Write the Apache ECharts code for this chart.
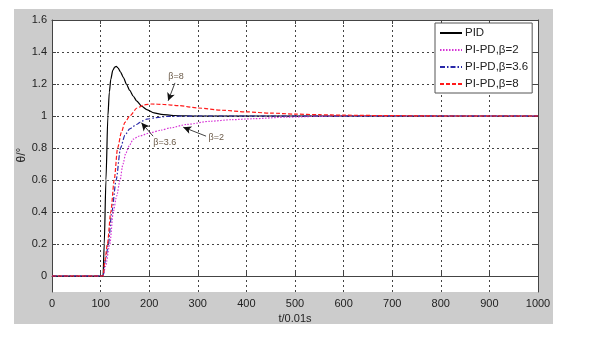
<!DOCTYPE html>
<html><head><meta charset="utf-8">
<script src="https://cdn.jsdelivr.net/npm/echarts@6/dist/echarts.min.js"></script>
<style>html,body{margin:0;padding:0;background:#fff}#c{width:589px;height:337px}</style>
</head><body><div id="c"></div>
<script>
const xTicks = [0,100,200,300,400,500,600,700,800,900,1000];
const yTicks = [0,0.2,0.4,0.6,0.8,1,1.2,1.4,1.6];
const seriesNames = ['PID','PI-PD,β=2','PI-PD,β=3.6','PI-PD,β=8'];

const tPID = [0,105,107.5,111,115,118,121,125,129,132,136,141,147,153,160,167,174,185,195,210,225,250,300,1000];
const vPID = [0,0,0.2,0.6,1.0,1.15,1.23,1.285,1.305,1.31,1.3,1.275,1.24,1.2,1.16,1.125,1.095,1.06,1.04,1.02,1.01,1.003,1.0,1.0];

const tB2 = [0,105,110,119,126,133,140,146,152,160,167,180,202,225,243,277,325,370,414,483,550,600,1000];
const vB2 = [0,0,0.06,0.2,0.4,0.5,0.6,0.7,0.77,0.82,0.855,0.875,0.895,0.912,0.926,0.947,0.967,0.977,0.983,0.993,0.998,1.0,1.0];

const tB36 = [0,105,110,116,123,132,141,150,160,174,185,195,215,240,300,1000];
const vB36 = [0,0,0.1,0.2,0.4,0.6,0.8,0.88,0.92,0.947,0.968,0.98,0.99,0.998,1.0,1.0];

const tB8 = [0,105,109,114,121,128,135,143,150,160,175,190,205,230,260,300,350,400,450,500,550,600,700,800,1000];
const vB8 = [0,0,0.1,0.2,0.4,0.6,0.8,0.9,0.96,1.0,1.05,1.07,1.075,1.072,1.065,1.05,1.036,1.026,1.018,1.012,1.008,1.005,1.002,1.0,1.0];

const annoText = [['β=8',255,1.245],['β=3.6',232,0.833],['β=2',338,0.867]];
const annoArrows = [[[253,1.207],[239,1.095]],[[208,0.874],[184,0.958]],[[317,0.874],[270,0.93]]];

function pairs(t,v){return t.map((x,i)=>[x,v[i]]);}
const chart = echarts.init(document.getElementById('c'));
const FONT = '"Liberation Sans", Arial, sans-serif';
const gridLine = {show:true,lineStyle:{color:'#444',type:[2,3],width:1}};
const mk = (name,t,v,color,type,extra)=>Object.assign({
  name:name,type:'line',data:pairs(t,v),symbol:'none',smooth:0.25,smoothMonotone:'x',
  lineStyle:{color:color,width:1.2,type:type},itemStyle:{color:color},z:3,animation:false
},extra||{});

const bgGraphics = [{id:'bg',type:'rect',shape:{x:14,y:9,width:539,height:315},style:{fill:'#cccccc'},z:-10,silent:true},
           {id:'plotbg',type:'rect',shape:{x:52,y:20,width:486,height:272},style:{fill:'#ffffff'},z:-9,silent:true},
           {id:'yname',type:'text',x:21.5,y:155,rotation:Math.PI/2,z:10,silent:true,
            style:{text:'θ/°',fontFamily:FONT,fontSize:12,fill:'#222',align:'center',verticalAlign:'middle'}}];

chart.setOption({
  animation:false,
  graphic:bgGraphics,
  grid:{left:52,right:51,top:20,bottom:45,containLabel:false},
  xAxis:[{type:'value',min:0,max:1000,interval:100,position:'bottom',
    name:'t/0.01s',nameLocation:'middle',nameGap:15,nameTextStyle:{fontFamily:FONT,fontSize:11,color:'#222'},
    axisLine:{show:true,lineStyle:{color:'#444'}},axisTick:{show:true,inside:true,length:4,lineStyle:{color:'#444'}},
    axisLabel:{fontFamily:FONT,fontSize:11,color:'#222',margin:6,formatter:v=>String(v)},splitLine:gridLine},
    {type:'value',min:0,max:1000,interval:100,position:'top',axisLine:{show:true,onZero:false,lineStyle:{color:'#444'}},
    axisTick:{show:true,inside:true,length:4,lineStyle:{color:'#444'}},axisLabel:{show:false},splitLine:{show:false}}],
  yAxis:[{type:'value',min:-0.1,max:1.6,position:'left',
    axisLine:{show:true,onZero:false,lineStyle:{color:'#444'}},
    axisTick:{show:true,inside:true,length:4,customValues:yTicks,lineStyle:{color:'#444'}},
    axisLabel:{fontFamily:FONT,fontSize:11,color:'#222',margin:5,customValues:yTicks,formatter:v=>String(+v.toFixed(1))},
    splitLine:gridLine},
    {type:'value',min:-0.1,max:1.6,position:'right',axisLine:{show:true,onZero:false,lineStyle:{color:'#444'}},
    axisTick:{show:true,inside:true,length:4,customValues:yTicks,lineStyle:{color:'#444'}},axisLabel:{show:false},splitLine:{show:false}}],
  legend:{left:435,top:23,orient:'vertical',itemWidth:22,itemHeight:10,itemGap:5,
    itemStyle:{opacity:0},
    backgroundColor:'#fff',borderColor:'#555',borderWidth:1,borderRadius:0,padding:[4,4,3,4],
    textStyle:{fontFamily:FONT,fontSize:11.5,color:'#222',padding:[0,0,0,-2]},data:seriesNames},
  series:[
    mk(seriesNames[0],tPID,vPID,'#000000','solid',{z:2}),
    mk(seriesNames[1],tB2,vB2,'#d633d6',[1.5,1.5]),
    mk(seriesNames[2],tB36,vB36,'#2828a8',[5,2,1.5,2]),
    mk(seriesNames[3],tB8,vB8,'#ff1a1a',[4,2],{z:4,
      markLine:{silent:true,symbol:['none','arrow'],symbolSize:[6,8],animation:false,
        lineStyle:{color:'#111',type:'solid',width:0.8},label:{show:false},
        data:annoArrows.map(a=>[{coord:a[0]},{coord:a[1]}])}})
  ]
});
const labels = annoText.map((a,i)=>{
  const p = chart.convertToPixel({xAxisIndex:0,yAxisIndex:0},[a[1],a[2]]);
  return {id:'anno'+i,type:'text',x:p[0],y:p[1],z:10,silent:true,
    style:{text:a[0],fontFamily:FONT,fontSize:9,fill:'#6b5a48',align:'center',verticalAlign:'middle'}};
});
chart.setOption({graphic:bgGraphics.concat(labels)});
</script></body></html>
